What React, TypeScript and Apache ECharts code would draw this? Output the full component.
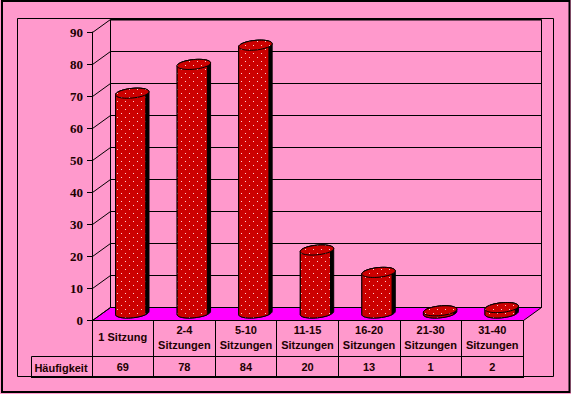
import React, { useEffect, useRef } from "react";
import * as echarts from "echarts";

const categories = ["1 Sitzung", "2-4\nSitzungen", "5-10\nSitzungen", "11-15\nSitzungen", "16-20\nSitzungen", "21-30\nSitzungen", "31-40\nSitzungen"];
const values = [69, 78, 84, 20, 13, 1, 2];
const gridTicks = [0, 10, 20, 30, 40, 50, 60, 70, 80, 90];
const rowLabel = "Häufigkeit";

const PINK = "#FF99CC";
const MAGENTA = "#FF00FF";
const RED = "#CC0000";
const FONT = "'Liberation Sans', Arial, sans-serif";

function makePattern() {
  const c = document.createElement("canvas");
  c.width = 8;
  c.height = 8;
  const ctx = c.getContext("2d")!;
  ctx.fillStyle = RED;
  ctx.fillRect(0, 0, 8, 8);
  ctx.fillStyle = "#FFD0D0";
  ctx.fillRect(1, 1, 1, 1);
  ctx.fillRect(5, 5, 1, 1);
  return c;
}

function arc(cx: number, cy: number, rx: number, ry: number, tilt: number, from: number, to: number, n = 24) {
  const pts: number[][] = [];
  for (let i = 0; i <= n; i++) {
    const t = from + ((to - from) * i) / n;
    const x = rx * Math.cos(t);
    const y = ry * Math.sin(t);
    pts.push([cx + x * Math.cos(tilt) - y * Math.sin(tilt), cy + x * Math.sin(tilt) + y * Math.cos(tilt)]);
  }
  return pts;
}

export default function App() {
  const ref = useRef<HTMLDivElement>(null);
  useEffect(() => {
    document.body.style.margin = "0";
    const chart = echarts.init(ref.current!, null, { renderer: "svg" });
    const pattern = { image: makePattern(), repeat: "repeat" };
    const DX = 18;
    const DY = -13;
    chart.setOption({
      animation: false,
      backgroundColor: PINK,
      grid: { left: 92, top: 32, width: 431, height: 288, containLabel: false },
      xAxis: [
        {
          type: "category",
          data: categories,
          position: "bottom",
          z: 5,
          axisLine: { lineStyle: { color: "#000", width: 1 } },
          axisTick: { show: true, length: 36, lineStyle: { color: "#000" } },
          axisLabel: { interval: 0, color: "#200000", fontFamily: FONT, fontWeight: "bold", fontSize: 11, lineHeight: 15, margin: 17, verticalAlign: "middle" },
        },
        {
          type: "category",
          data: values.map(String),
          position: "bottom",
          offset: 36,
          z: 5,
          axisLine: { show: true, lineStyle: { color: "#000", width: 1 } },
          axisTick: { show: true, length: 21, lineStyle: { color: "#000" } },
          axisLabel: { interval: 0, color: "#200000", fontFamily: FONT, fontWeight: "bold", fontSize: 11, margin: 11, verticalAlign: "middle" },
        },
      ],
      yAxis: {
        type: "value",
        min: 0,
        max: 90,
        interval: 10,
        z: 5,
        splitLine: { show: false },
        axisLine: { show: true, lineStyle: { color: "#000", width: 1 } },
        axisTick: { show: true, length: 5, lineStyle: { color: "#000" } },
        axisLabel: { color: "#200000", fontFamily: "'Liberation Serif', serif", fontWeight: "bold", fontSize: 13, margin: 9 },
      },
      series: [
        {
          type: "custom",
          name: "wall",
          coordinateSystem: "cartesian2d",
          xAxisIndex: 0,
          yAxisIndex: 0,
          clip: false,
          z: 1,
          data: gridTicks.map((t) => [0, t]),
          encode: { x: 0, y: 1 },
          renderItem: (params: any, api: any) => {
            const sys = params.coordSys;
            const y = Math.floor(api.coord([0, api.value(1)])[1]) + 0.5;
            const x0 = Math.floor(sys.x) + 0.5;
            const x1 = Math.floor(sys.x + sys.width) + 0.5;
            const s = { stroke: "#000", lineWidth: 1 };
            const children: any[] = [];
            const isBottom = api.value(1) === 0;
            const isTop = api.value(1) === 90;
            if (isBottom) {
              children.push({
                type: "polygon",
                shape: { points: [[x0, y], [x0 + DX, y + DY], [x1 + DX, y + DY], [x1, y]] },
                style: { fill: MAGENTA, stroke: "#000", lineWidth: 1 },
              });
            }
            if (isTop) {
              const yb = y + 288;
              children.push({ type: "line", shape: { x1: x0 + DX, y1: y + DY, x2: x0 + DX, y2: yb + DY }, style: s });
              children.push({ type: "line", shape: { x1: x1 + DX, y1: y + DY, x2: x1 + DX, y2: yb + DY }, style: s });
            }
            children.push({ type: "line", shape: { x1: x0, y1: y, x2: x0 + DX, y2: y + DY }, style: s });
            children.push({
              type: "line",
              shape: { x1: x0 + DX, y1: y + DY, x2: x1 + DX, y2: y + DY },
              style: { stroke: "#000", lineWidth: isTop ? 2 : 1 },
            });
            return { type: "group", children };
          },
        },
        {
          type: "custom",
          name: "Häufigkeit",
          coordinateSystem: "cartesian2d",
          xAxisIndex: 0,
          yAxisIndex: 0,
          clip: false,
          z: 3,
          data: values.map((v, i) => [i, v]),
          encode: { x: 0, y: 1 },
          renderItem: (params: any, api: any) => {
            const i = api.value(0);
            const v = api.value(1);
            const [c, yv] = api.coord([i, v]);
            const y0 = api.coord([i, 0])[1];
            const cx = c + 9.5;
            const top = yv - 6;
            const bot = y0 - 7;
            const rx = 16.8;
            const ry = 4.8;
            const tilt = -0.1;
            const lowBot = arc(cx, bot, rx, ry, tilt, 0, Math.PI);
            const full = arc(cx, top, rx, ry, tilt, 0, Math.PI * 2, 48);
            const rightX = cx + 13.5;
            const sil = [...arc(cx, top, rx, ry, tilt, Math.PI, Math.PI * 2), ...lowBot];
            const body = sil.map(([x, y]) => [Math.min(x, rightX), y]);
            return {
              type: "group",
              children: [
                { type: "polygon", shape: { points: sil }, style: { fill: "#000", stroke: "#000", lineWidth: 1 } },
                { type: "polygon", shape: { points: body }, style: { fill: pattern, stroke: "#000", lineWidth: 1 } },
                { type: "polygon", shape: { points: full }, style: { fill: pattern, stroke: "#000", lineWidth: 1 } },
              ],
            };
          },
        },
      ],
      graphic: [
        { type: "rect", shape: { x: 2, y: 1, width: 567.5, height: 391 }, style: { fill: "none", stroke: "#000", lineWidth: 2 }, z: 10 },
        { type: "rect", shape: { x: 17.5, y: 18.5, width: 536, height: 358 }, style: { fill: "none", stroke: "#000", lineWidth: 1 }, z: 0 },
        { type: "rect", shape: { x: 31.5, y: 356.5, width: 61, height: 21 }, style: { fill: "none", stroke: "#000", lineWidth: 1 }, z: 10 },
        { type: "line", shape: { x1: 31, y1: 377, x2: 524, y2: 377 }, style: { stroke: "#000", lineWidth: 2 }, z: 10 },
        {
          type: "text",
          x: 61,
          y: 367.5,
          style: { text: rowLabel, fill: "#200000", font: `bold 11px ${FONT}`, align: "center", verticalAlign: "middle" },
          z: 10,
        },
      ],
    });
    return () => chart.dispose();
  }, []);
  return <div ref={ref} style={{ width: 571, height: 394 }} />;
}
